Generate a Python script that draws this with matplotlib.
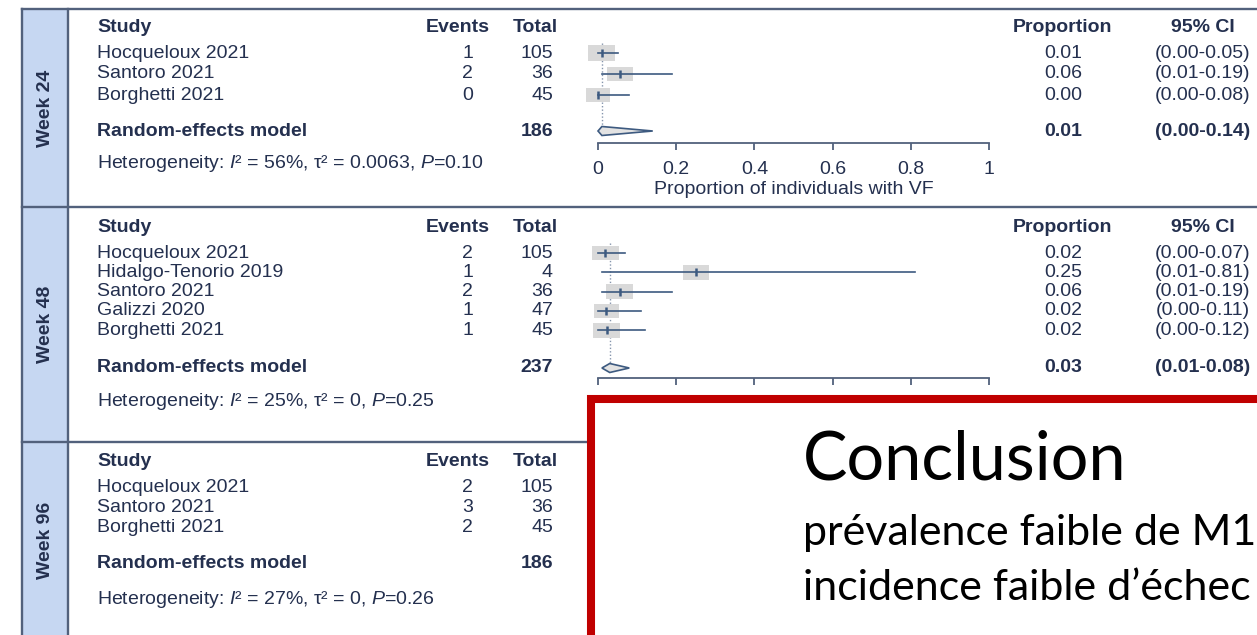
import matplotlib
matplotlib.use("Agg")
import matplotlib.pyplot as plt
from matplotlib.patches import Rectangle, Polygon
import numpy as np

plt.rcParams["font.family"] = ["Liberation Sans", "DejaVu Sans"]
plt.rcParams["mathtext.fontset"] = "custom"
plt.rcParams["mathtext.rm"] = "Liberation Sans"
plt.rcParams["mathtext.it"] = "Liberation Sans:italic"

W, H = 1257, 635

# ---- data ----
studies_24 = ["Hocqueloux 2021", "Santoro 2021", "Borghetti 2021"]
events_24 = [1, 2, 0]
total_24 = [105, 36, 45]
ci_lo_24 = [0.00, 0.01, 0.00]
ci_hi_24 = [0.05, 0.19, 0.08]
weight_24 = [36.5, 34.0, 29.5]
pooled_24 = [0.01, 0.00, 0.14]
het_24 = ["56%", "0.0063", "0.10"]

studies_48 = ["Hocqueloux 2021", "Hidalgo-Tenorio 2019", "Santoro 2021",
              "Galizzi 2020", "Borghetti 2021"]
events_48 = [2, 1, 2, 1, 1]
total_48 = [105, 4, 36, 47, 45]
ci_lo_48 = [0.00, 0.01, 0.01, 0.00, 0.00]
ci_hi_48 = [0.07, 0.81, 0.19, 0.11, 0.12]
weight_48 = [20.5, 19.5, 21.0, 18.5, 20.5]
pooled_48 = [0.03, 0.01, 0.08]
het_48 = ["25%", "0", "0.25"]

studies_96 = ["Hocqueloux 2021", "Santoro 2021", "Borghetti 2021"]
events_96 = [2, 3, 2]
total_96 = [105, 36, 45]
het_96 = ["27%", "0", "0.26"]

xticks = [0, 0.2, 0.4, 0.6, 0.8, 1]
xtick_labels = ["0", "0.2", "0.4", "0.6", "0.8", "1"]

conclusion_title = "Conclusion"
conclusion_lines = ["prévalence faible de M1",
                    "incidence faible d\u2019échec"]

# ---- colours ----
TXT = "#24304f"
LINE = "#3d5a80"
FRAME = "#52617c"
STRIP = "#c6d7f2"
BOXGREY = "#d9d9d9"
RED = "#c00000"
FS = 14

# panel layout in pixels
lay_24 = dict(top=9, header=27, row0=53, step=21, pooled=131, het=164, axis=143, label=108)
lay_48 = dict(top=207, header=227, row0=253, step=19.3, pooled=368, het=401, axis=378, label=324)
lay_96 = dict(top=442, header=461, row0=487, step=20, pooled=564, het=600, axis=640, label=540)

fig = plt.figure(figsize=(W / 100, H / 100), dpi=100)
fig.patch.set_facecolor("white")

ax = fig.add_axes([0, 0, 1, 1])
ax.set_xlim(0, W)
ax.set_ylim(H, 0)
ax.axis("off")

# frame + blue strip
ax.add_patch(Rectangle((22, 9), 46, 640, facecolor=STRIP, edgecolor="none", zorder=0))
for x in [22, 68]:
    ax.plot([x, x], [9, 650], color=FRAME, lw=1.7, zorder=1)
for lay in [lay_24, lay_48, lay_96]:
    ax.plot([22, 1270], [lay["top"], lay["top"]], color=FRAME, lw=1.7, zorder=1)

for lay, name in [(lay_24, "Week 24"), (lay_48, "Week 48"), (lay_96, "Week 96")]:
    ax.text(45, lay["label"], name, rotation=90, ha="center", va="center",
            fontsize=FS, fontweight="bold", color=TXT)


def left_table(lay, studies, events, totals, het):
    y = lay["header"]
    ax.text(97, y, "Study", fontsize=FS, fontweight="bold", color=TXT, va="center")
    ax.text(490, y, "Events", fontsize=FS, fontweight="bold", color=TXT, va="center", ha="right")
    ax.text(558, y, "Total", fontsize=FS, fontweight="bold", color=TXT, va="center", ha="right")
    for i, (s, e, n) in enumerate(zip(studies, events, totals)):
        yy = lay["row0"] + i * lay["step"]
        ax.text(97, yy, s, fontsize=FS, color=TXT, va="center")
        ax.text(473, yy, str(e), fontsize=FS, color=TXT, va="center", ha="right")
        ax.text(553, yy, str(n), fontsize=FS, color=TXT, va="center", ha="right")
    ax.text(97, lay["pooled"], "Random-effects model", fontsize=FS, fontweight="bold",
            color=TXT, va="center")
    ax.text(553, lay["pooled"], str(sum(totals)), fontsize=FS, fontweight="bold",
            color=TXT, va="center", ha="right")
    ax.text(97, lay["het"],
            "Heterogeneity: $\\mathit{I}$\u00b2 = %s, \u03c4\u00b2 = %s, $\\mathit{P}$=%s" % tuple(het),
            fontsize=FS, color=TXT, va="center")


def right_table(lay, events, totals, lo, hi, pooled):
    y = lay["header"]
    ax.text(1063, y, "Proportion", fontsize=FS, fontweight="bold", color=TXT, va="center", ha="center")
    ax.text(1203, y, "95% CI", fontsize=FS, fontweight="bold", color=TXT, va="center", ha="center")
    for i, (e, n, l, h) in enumerate(zip(events, totals, lo, hi)):
        yy = lay["row0"] + i * lay["step"]
        ax.text(1063, yy, "%.2f" % (e / n), fontsize=FS, color=TXT, va="center", ha="center")
        ax.text(1203, yy, "(%.2f-%.2f)" % (l, h), fontsize=FS, color=TXT, va="center", ha="center")
    ax.text(1063, lay["pooled"], "%.2f" % pooled[0], fontsize=FS, fontweight="bold",
            color=TXT, va="center", ha="center")
    ax.text(1203, lay["pooled"], "(%.2f-%.2f)" % (pooled[1], pooled[2]), fontsize=FS,
            fontweight="bold", color=TXT, va="center", ha="center")


def forest(lay, events, totals, lo, hi, weights, pooled):
    x0, x1 = 598, 989
    top, axis_y = lay["top"], lay["axis"]
    fa = fig.add_axes([x0 / W, 1 - axis_y / H, (x1 - x0) / W, (axis_y - top) / H])
    fa.set_xlim(0, 1)
    fa.set_ylim(axis_y, top)
    fa.patch.set_visible(False)
    for sp in ["left", "right", "top"]:
        fa.spines[sp].set_visible(False)
    fa.spines["bottom"].set_color(FRAME)
    fa.spines["bottom"].set_linewidth(1.3)
    fa.set_yticks([])
    fa.set_xticks(xticks)
    fa.set_xticklabels(xtick_labels)
    fa.tick_params(axis="x", direction="out", length=5, width=1.3, color=FRAME,
                   labelcolor=TXT, labelsize=FS, pad=8)
    fa.set_xlabel("Proportion of individuals with VF", fontsize=FS, color=TXT, labelpad=2)

    px = 1.0 / (x1 - x0)
    wmax = max(weights)
    for i, (e, n, l, h, w) in enumerate(zip(events, totals, lo, hi, weights)):
        p = e / n
        y = lay["row0"] + i * lay["step"]
        bw = 27 * np.sqrt(w / wmax)
        bh = 0.56 * bw
        fa.add_patch(Rectangle((p - bw * px / 2, y - bh / 2), bw * px, bh,
                               facecolor=BOXGREY, edgecolor="none", zorder=1, clip_on=False))
        fa.plot([l, h], [y, y], color=LINE, lw=1.2, zorder=2, clip_on=False)
        fa.plot([p], [y], marker="|", ms=6, mew=1.8, color=LINE, zorder=3, clip_on=False)

    est, plo, phi = pooled
    yp = lay["pooled"]
    dh = 4.5
    fa.add_patch(Polygon([(plo, yp), (est, yp - dh), (phi, yp), (est, yp + dh)], closed=True,
                         facecolor="#e3e3e3", edgecolor=LINE, lw=1.2, zorder=2, clip_on=False))
    fa.plot([est, est], [lay["row0"] - 10, yp - dh], color="#8595ad", lw=1,
            ls=(0, (1, 1.5)), zorder=0, clip_on=False)
    return fa


left_table(lay_24, studies_24, events_24, total_24, het_24)
right_table(lay_24, events_24, total_24, ci_lo_24, ci_hi_24, pooled_24)
forest(lay_24, events_24, total_24, ci_lo_24, ci_hi_24, weight_24, pooled_24)

left_table(lay_48, studies_48, events_48, total_48, het_48)
right_table(lay_48, events_48, total_48, ci_lo_48, ci_hi_48, pooled_48)
forest(lay_48, events_48, total_48, ci_lo_48, ci_hi_48, weight_48, pooled_48)

left_table(lay_96, studies_96, events_96, total_96, het_96)

# conclusion box on top
top = fig.add_axes([0, 0, 1, 1])
top.set_zorder(10)
top.set_xlim(0, W)
top.set_ylim(H, 0)
top.axis("off")
top.patch.set_visible(False)
top.add_patch(Rectangle((591, 399), 900, 400, facecolor="white", edgecolor=RED, lw=5.8))
top.text(803, 480, conclusion_title, fontfamily="Lato", fontsize=48, color="black",
         va="baseline", ha="left")
top.text(803, 545, conclusion_lines[0], fontfamily="Lato", fontsize=31, color="black",
         va="baseline", ha="left")
top.text(803, 600, conclusion_lines[1], fontfamily="Lato", fontsize=31, color="black",
         va="baseline", ha="left")

fig.savefig("out.png", dpi=100)
